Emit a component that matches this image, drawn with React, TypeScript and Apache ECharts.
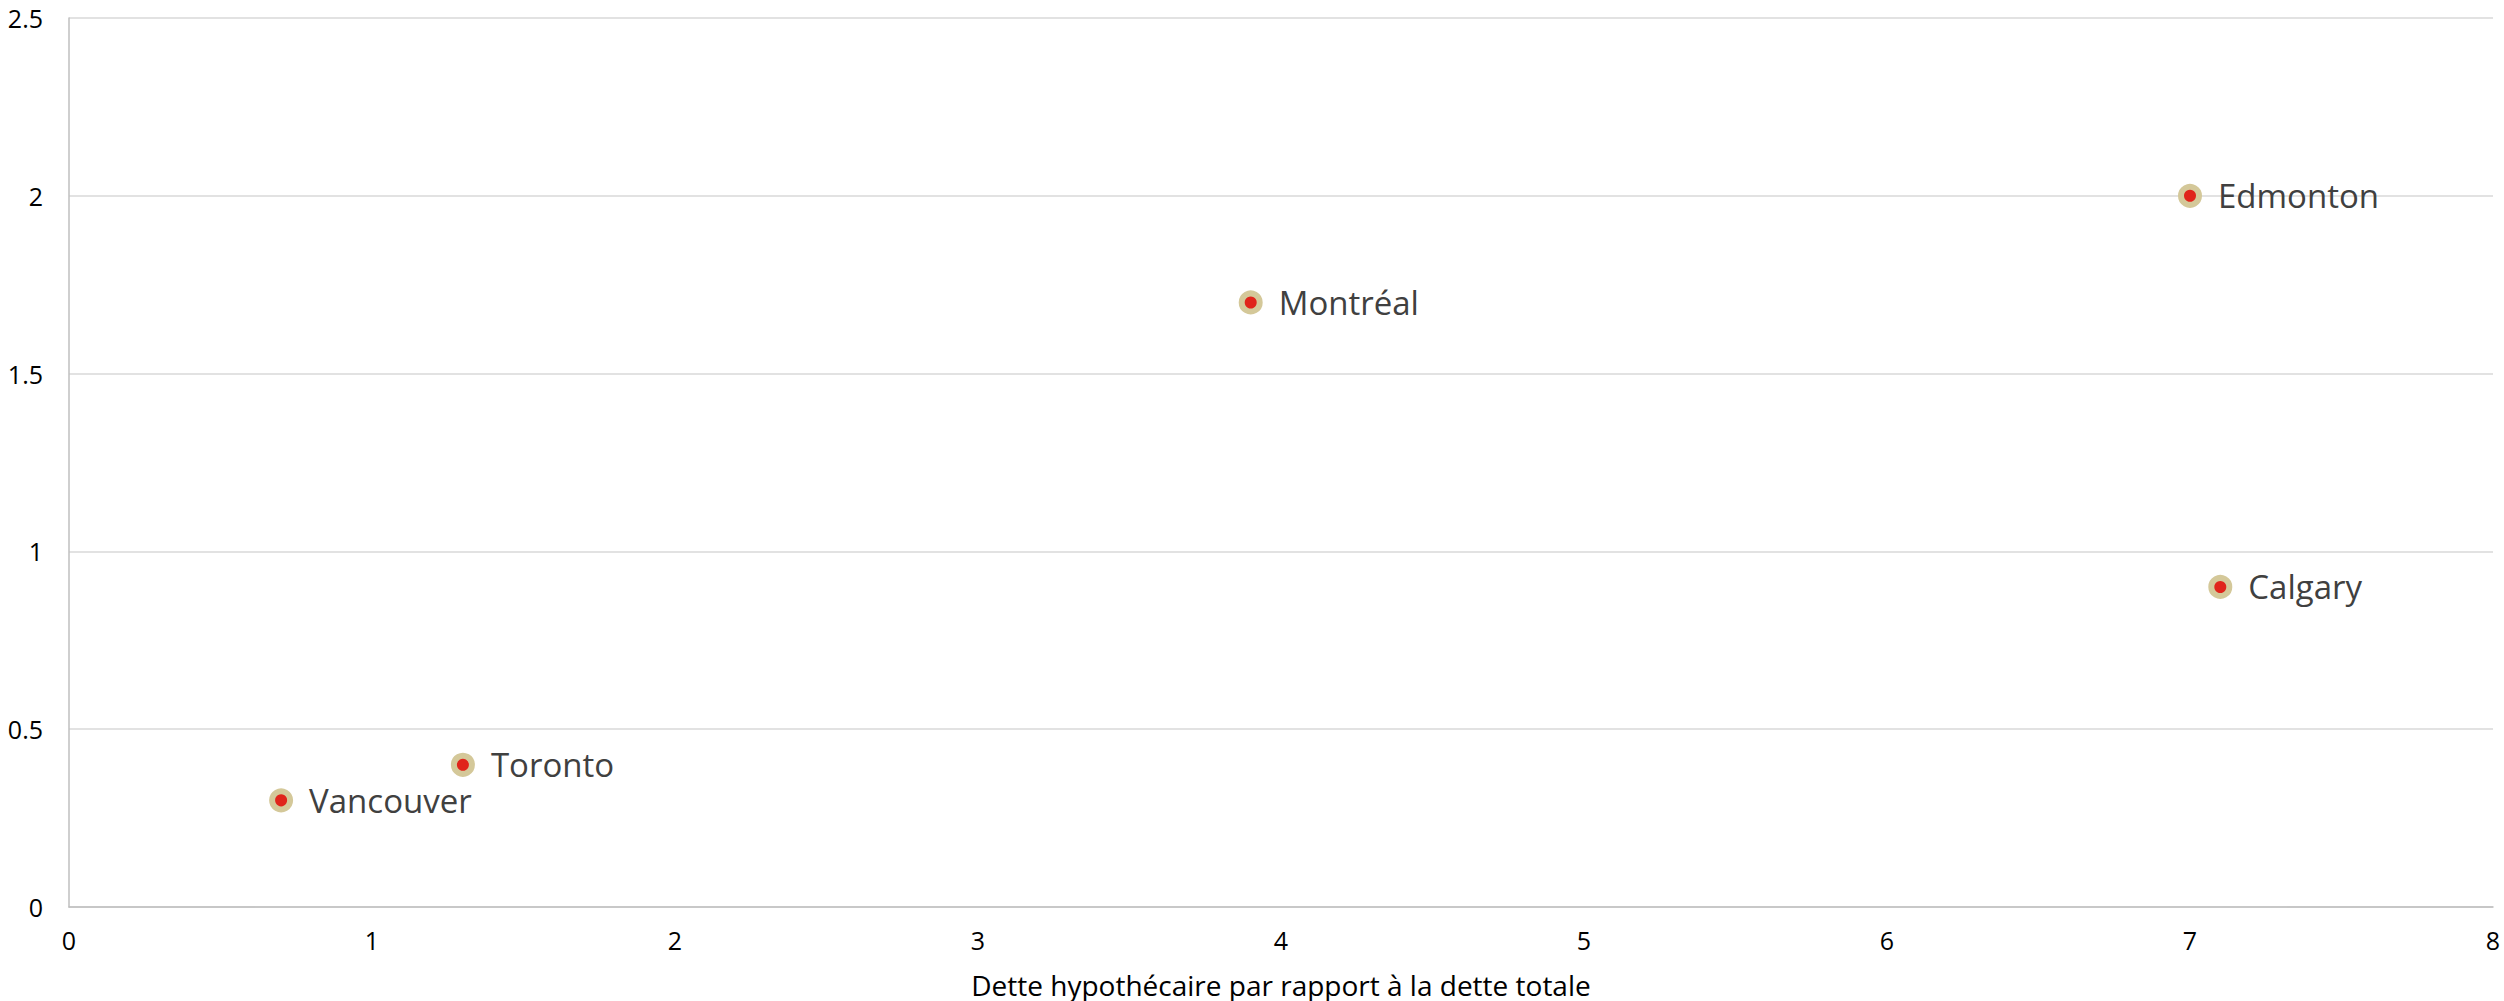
import React, { useEffect, useRef } from "react";
import * as echarts from "echarts";

const cities = ["Vancouver", "Toronto", "Montréal", "Edmonton", "Calgary"];
const xValues = [0.7, 1.3, 3.9, 7.0, 7.1];
const yValues = [0.3, 0.4, 1.7, 2.0, 0.9];
const xAxisTitle = "Dette hypothécaire par rapport à la dette totale";

const FONT = "'Open Sans', 'Noto Sans', sans-serif";

export default function App() {
  const ref = useRef<HTMLDivElement>(null);
  useEffect(() => {
    if (!ref.current) return;
    const chart = echarts.init(ref.current, undefined, { renderer: "svg" });
    const data = cities.map((c, i) => ({ name: c, value: [xValues[i], yValues[i]] }));
    chart.setOption({
      animation: false,
      backgroundColor: "#ffffff",
      grid: {
        left: 69,
        right: 11,
        top: 18,
        bottom: 94,
        containLabel: false,
        outerBoundsMode: "none",
      },
      xAxis: {
        type: "value",
        min: 0,
        max: 8,
        interval: 1,
        name: xAxisTitle,
        nameLocation: "middle",
        nameGap: 64,
        nameTextStyle: { fontFamily: FONT, fontSize: 28, color: "#000000" },
        axisLine: { show: true, lineStyle: { color: "#bfbfbf", width: 1.5 } },
        axisTick: { show: false },
        splitLine: { show: false },
        axisLabel: { fontFamily: FONT, fontSize: 25, color: "#000000", margin: 20 },
      },
      yAxis: {
        type: "value",
        min: 0,
        max: 2.5,
        interval: 0.5,
        axisLine: { show: true, lineStyle: { color: "#bfbfbf", width: 1.5 } },
        axisTick: { show: false },
        splitLine: { show: true, lineStyle: { color: "#d9d9d9", width: 1.5 } },
        axisLabel: { fontFamily: FONT, fontSize: 25, color: "#000000", margin: 26 },
      },
      series: [
        {
          type: "scatter",
          data,
          symbol: "circle",
          symbolSize: 18,
          itemStyle: { color: "#e0241b", borderColor: "#d4c899", borderWidth: 6, opacity: 1 },
          label: {
            show: true,
            position: "right",
            distance: 16,
            formatter: (p: any) => p.name,
            fontFamily: FONT,
            fontSize: 33,
            color: "#404040",
          },
        },
      ],
    });
    return () => chart.dispose();
  }, []);
  return (
    <div
      ref={ref}
      style={{ position: "fixed", left: 0, top: 0, width: 2504, height: 1001 }}
    />
  );
}
